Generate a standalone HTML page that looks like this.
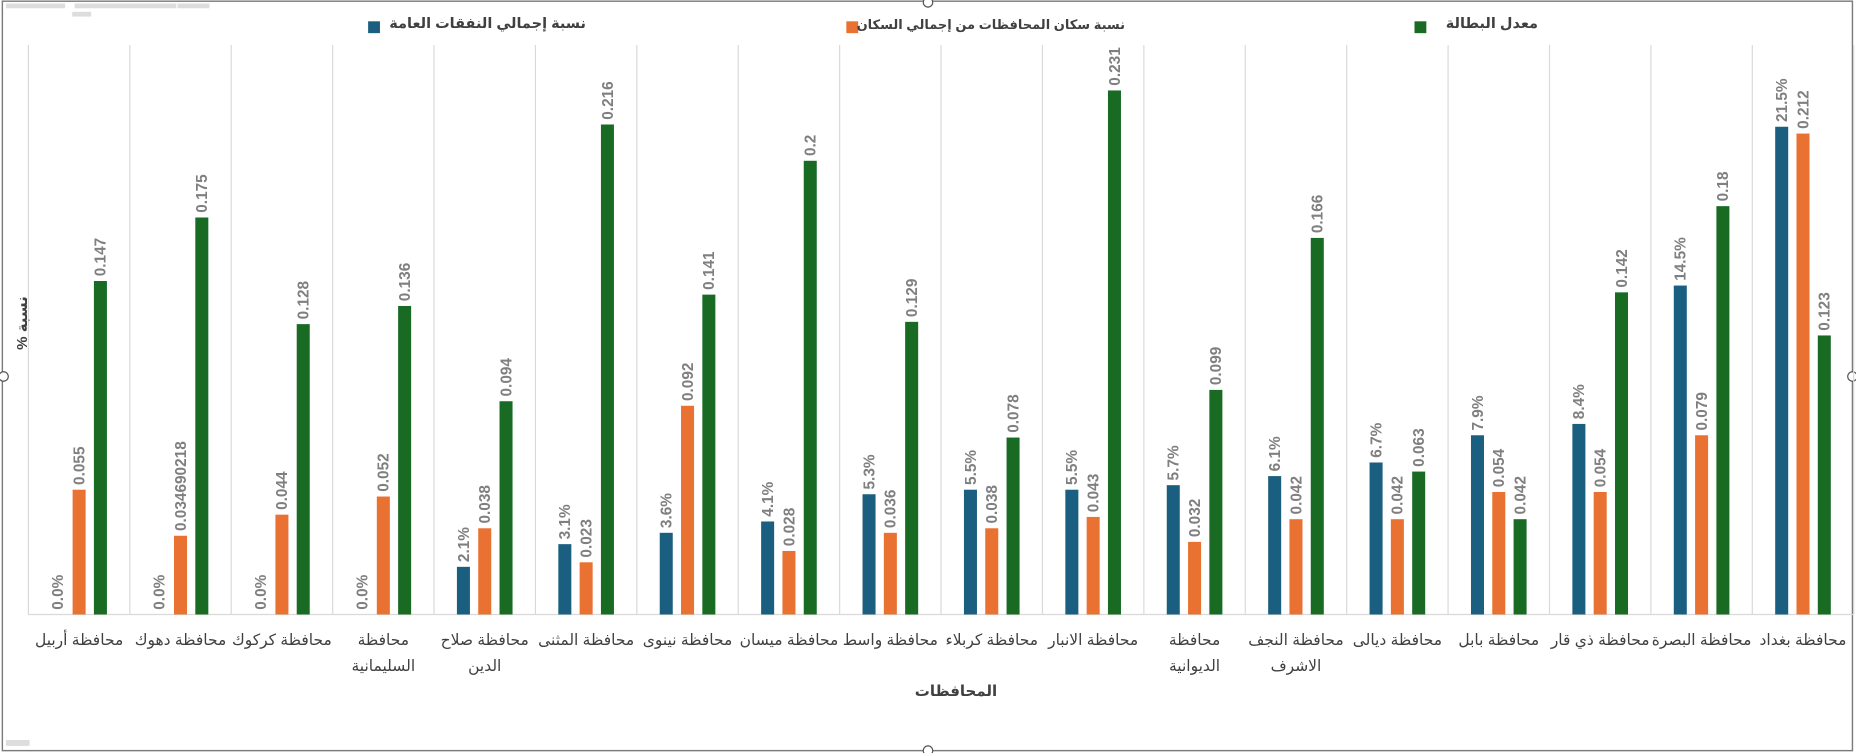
<!DOCTYPE html>
<html><head><meta charset="utf-8">
<style>
html,body{margin:0;padding:0;background:#fff;}
#wrap{position:relative;width:1856px;height:753px;overflow:hidden;}
svg{display:block;position:absolute;left:0;top:0;}
text{font-family:"Liberation Sans","DejaVu Sans",sans-serif;}
.ar{position:absolute;font-family:"Liberation Sans","DejaVu Sans",sans-serif;direction:rtl;color:#404040;white-space:nowrap;}
.cat{font-size:15.5px;text-align:center;width:120px;line-height:26px;}
.leg{font-size:14.5px;font-weight:bold;top:16px;}
</style></head>
<body>
<div id="wrap">
<svg id="c" width="1856" height="753" viewBox="0 0 1568 636" preserveAspectRatio="none" xmlns="http://www.w3.org/2000/svg">
<rect x="2" y="1" width="1563" height="633" fill="#fff" stroke="#7a7a7a" stroke-width="1.2"/>
<rect x="5" y="3" width="50" height="4" fill="#ddd"/><rect x="63" y="3" width="86" height="4" fill="#ddd"/><rect x="150" y="3" width="27" height="4" fill="#ddd"/><rect x="61" y="10" width="16" height="4" fill="#ddd"/>
<rect x="5" y="625" width="20" height="5" fill="#ddd"/>
<circle cx="3" cy="318" r="4" fill="#fff" stroke="#555"/><circle cx="1565" cy="318" r="4" fill="#fff" stroke="#555"/>
<circle cx="784" cy="634" r="4" fill="#fff" stroke="#555"/><circle cx="784" cy="2" r="4" fill="#fff" stroke="#555"/>
<g id="grid"></g>
<g id="bars"></g>
<rect x="311" y="18" width="10" height="10" fill="#1a5e80"/>
<rect x="715" y="18" width="10" height="10" fill="#e97132"/>
<rect x="1195" y="18" width="10" height="10" fill="#196b24"/>
</svg>
<div class="ar leg" style="right:1270px">نسبة إجمالي النفقات العامة</div>
<div class="ar leg" style="right:731px;font-size:13px;top:17px">نسبة سكان المحافظات من إجمالي السكان</div>
<div class="ar leg" style="right:318px">معدل البطالة</div>
<div class="ar" style="font-size:15px;font-weight:bold;left:896px;width:120px;text-align:center;top:682px">المحافظات</div>
<div class="ar" style="font-size:15px;font-weight:bold;left:-28px;width:100px;text-align:center;top:314px;transform:rotate(-90deg)">نسبة %</div>
<div id="cats"></div>
</div>
<script>
var names=[["محافظة أربيل"],["محافظة دهوك"],["محافظة كركوك"],["محافظة","السليمانية"],["محافظة صلاح","الدين"],["محافظة المثنى"],["محافظة نينوى"],["محافظة ميسان"],["محافظة واسط"],["محافظة كربلاء"],["محافظة الانبار"],["محافظة","الديوانية"],["محافظة النجف","الاشرف"],["محافظة ديالى"],["محافظة بابل"],["محافظة ذي قار"],["محافظة البصرة"],["محافظة بغداد"]];
var B=[0,0,0,0,2.1,3.1,3.6,4.1,5.3,5.5,5.5,5.7,6.1,6.7,7.9,8.4,14.5,21.5];
var O=[[.055,"0.055"],[.0347,"0.034690218"],[.044,"0.044"],[.052,"0.052"],[.038,"0.038"],[.023,"0.023"],[.092,"0.092"],[.028,"0.028"],[.036,"0.036"],[.038,"0.038"],[.043,"0.043"],[.032,"0.032"],[.042,"0.042"],[.042,"0.042"],[.054,"0.054"],[.054,"0.054"],[.079,"0.079"],[.212,"0.212"]];
var G=[.147,.175,.128,.136,.094,.216,.141,.2,.129,.078,.231,.099,.166,.063,.042,.142,.18,.123];
var base=519,k=1916,w=85.67,s="",g="",cs="",S=1856/1568;
for(var i=0;i<=18;i++){var x=24+i*w;g+='<line x1="'+x+'" y1="38" x2="'+x+'" y2="'+base+'" stroke="#d9d9d9" stroke-width="1"/>';}
g+='<line x1="24" y1="'+base+'" x2="1566" y2="'+base+'" stroke="#d9d9d9" stroke-width="1"/>';
function bar(x,v,col,lab){var h=v*k,y=base-h;var r='';if(h>0)r+='<rect x="'+x+'" y="'+y+'" width="11" height="'+h+'" fill="'+col+'"/>';
r+='<text transform="translate('+(x+10)+','+(y-4)+') rotate(-90)" font-size="13" font-weight="bold" fill="#7f7f7f">'+lab+'</text>';return r;}
for(var i=0;i<18;i++){var c=24+i*w+w/2;
s+=bar(c-23.5,B[i]/100,"#1a5e80",B[i].toFixed(1)+"%");
s+=bar(c-5.5,O[i][0],"#e97132",O[i][1]);
s+=bar(c+12.5,G[i],"#196b24",String(G[i]));
var n=names[i];
cs+='<div class="ar cat" style="left:'+(c*S-60)+'px;top:628px">'+n[0]+(n[1]?'<br>'+n[1]:'')+'</div>';}
document.getElementById("grid").innerHTML=g;
document.getElementById("bars").innerHTML=s;
document.getElementById("cats").innerHTML=cs;
</script>
</body></html>
